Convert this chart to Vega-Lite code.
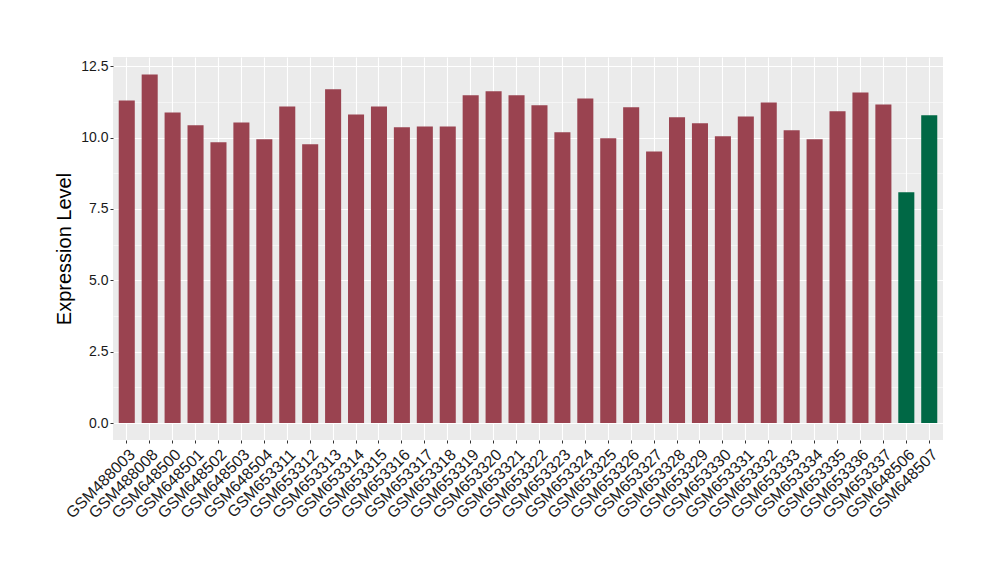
{
  "$schema": "https://vega.github.io/schema/vega-lite/v6.json",
  "autosize": {"type": "none"},
  "padding": {"left": 113, "top": 57, "right": 57, "bottom": 140},
  "width": 830,
  "height": 383,
  "background": "white",
  "config": {
    "view": {"fill": "#EBEBEB", "stroke": null},
    "font": "Liberation Sans"
  },
  "data": {
    "values": [
      {"sample": "GSM488003", "value": 11.30, "group": "a"},
      {"sample": "GSM488008", "value": 12.21, "group": "a"},
      {"sample": "GSM648500", "value": 10.88, "group": "a"},
      {"sample": "GSM648501", "value": 10.43, "group": "a"},
      {"sample": "GSM648502", "value": 9.83, "group": "a"},
      {"sample": "GSM648503", "value": 10.53, "group": "a"},
      {"sample": "GSM648504", "value": 9.94, "group": "a"},
      {"sample": "GSM653311", "value": 11.09, "group": "a"},
      {"sample": "GSM653312", "value": 9.76, "group": "a"},
      {"sample": "GSM653313", "value": 11.69, "group": "a"},
      {"sample": "GSM653314", "value": 10.81, "group": "a"},
      {"sample": "GSM653315", "value": 11.09, "group": "a"},
      {"sample": "GSM653316", "value": 10.36, "group": "a"},
      {"sample": "GSM653317", "value": 10.39, "group": "a"},
      {"sample": "GSM653318", "value": 10.39, "group": "a"},
      {"sample": "GSM653319", "value": 11.48, "group": "a"},
      {"sample": "GSM653320", "value": 11.62, "group": "a"},
      {"sample": "GSM653321", "value": 11.48, "group": "a"},
      {"sample": "GSM653322", "value": 11.13, "group": "a"},
      {"sample": "GSM653323", "value": 10.18, "group": "a"},
      {"sample": "GSM653324", "value": 11.37, "group": "a"},
      {"sample": "GSM653325", "value": 9.97, "group": "a"},
      {"sample": "GSM653326", "value": 11.06, "group": "a"},
      {"sample": "GSM653327", "value": 9.51, "group": "a"},
      {"sample": "GSM653328", "value": 10.71, "group": "a"},
      {"sample": "GSM653329", "value": 10.50, "group": "a"},
      {"sample": "GSM653330", "value": 10.04, "group": "a"},
      {"sample": "GSM653331", "value": 10.74, "group": "a"},
      {"sample": "GSM653332", "value": 11.23, "group": "a"},
      {"sample": "GSM653333", "value": 10.25, "group": "a"},
      {"sample": "GSM653334", "value": 9.94, "group": "a"},
      {"sample": "GSM653335", "value": 10.92, "group": "a"},
      {"sample": "GSM653336", "value": 11.58, "group": "a"},
      {"sample": "GSM653337", "value": 11.16, "group": "a"},
      {"sample": "GSM648506", "value": 8.08, "group": "b"},
      {"sample": "GSM648507", "value": 10.78, "group": "b"}
    ]
  },
  "mark": {"type": "bar"},
  "encoding": {
    "x": {
      "field": "sample",
      "type": "nominal",
      "sort": null,
      "scale": {"paddingInner": 0.3, "paddingOuter": 0.25},
      "axis": {
        "title": null,
        "bandPosition": 0.5,
        "labelAngle": -45,
        "labelAlign": "right",
        "labelBaseline": "top",
        "labelFontSize": 16,
        "labelColor": "#1A1A1A",
        "labelPadding": 3,
        "tickSize": 3,
        "tickColor": "#333333",
        "domain": false,
        "grid": true,
        "gridColor": "#FFFFFF",
        "gridWidth": 1.1
      }
    },
    "y": {
      "field": "value",
      "type": "quantitative",
      "scale": {"domain": [-0.595, 12.82], "nice": false, "zero": false},
      "axis": {
        "title": "Expression Level",
        "titleFontSize": 20,
        "titleFontWeight": "normal",
        "titleColor": "#000000",
        "titlePadding": 6,
        "values": [0, 1.25, 2.5, 3.75, 5, 6.25, 7.5, 8.75, 10, 11.25, 12.5],
        "labelExpr": "datum.value % 2.5 === 0 ? format(datum.value, '.1f') : ''",
        "labelFontSize": 14,
        "labelColor": "#1A1A1A",
        "labelPadding": 2,
        "tickSize": 3,
        "tickColor": "#333333",
        "tickOpacity": {"condition": {"test": "datum.value % 2.5 === 0", "value": 1}, "value": 0},
        "domain": false,
        "grid": true,
        "gridColor": "#FFFFFF",
        "gridWidth": {"condition": {"test": "datum.value % 2.5 === 0", "value": 1.1}, "value": 0.5}
      }
    },
    "color": {
      "field": "group",
      "type": "nominal",
      "scale": {"domain": ["a", "b"], "range": ["#9A4350", "#006845"]},
      "legend": null
    }
  }
}
